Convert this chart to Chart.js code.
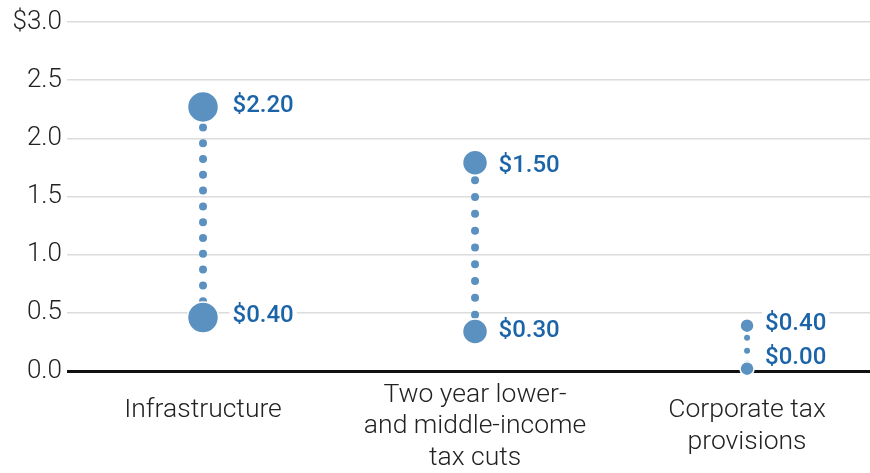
<!DOCTYPE html>
<html>
<head>
<meta charset="utf-8">
<script src="https://cdn.jsdelivr.net/npm/chart.js@4/dist/chart.umd.min.js"></script>
<style>
html,body{margin:0;padding:0;background:#fff;overflow:hidden;}
#wrap{width:870px;height:473px;position:relative;}
canvas{display:block;}
</style>
</head>
<body>
<div id="wrap"><canvas id="mainCanvas"></canvas></div>
<script>
// chart values
var categories = [['Infrastructure', ''], ['Two year lower-', 'and middle-income', 'tax cuts'], ['Corporate tax', 'provisions']];
var highValues = [2.27, 1.79, 0.39];
var lowValues = [0.46, 0.34, 0.02];
var highLabels = ['$2.20', '$1.50', '$0.40'];
var lowLabels = ['$0.40', '$0.30', '$0.00'];
var yTicks = [0, 0.5, 1.0, 1.5, 2.0, 2.5, 3.0];

// looks
var dotColor = '#5b91c1';
var labelColor = '#1c64a8';
var bigRadius = [15.5, 12.5, 7];
var smallDot = [8, 8, 6];
var dotGap = [15.8, 16.8, 13];
var lowNudge = [-2, -1, -12];
var highNudge = [-2, 2, -3];

var datasets = categories.map(function(c, i){
    return {
        data: [{x: i, y: highValues[i]}, {x: i, y: lowValues[i]}],
        clip: false,
        borderColor: dotColor,
        backgroundColor: dotColor,
        borderWidth: smallDot[i],
        borderDash: [0, dotGap[i]],
        borderDashOffset: dotGap[i] - ((bigRadius[i] + 5) % dotGap[i]),
        borderCapStyle: 'round',
        pointRadius: bigRadius[i],
        pointHoverRadius: bigRadius[i],
        pointBackgroundColor: dotColor,
        pointBorderColor: '#fff',
        pointBorderWidth: 1.5
    };
});

var valueLabels = {
    id: 'valueLabels',
    afterDatasetsDraw: function(chart){
        var ctx = chart.ctx;
        var xs = chart.scales.x, ys = chart.scales.y;
        ctx.save();
        ctx.font = '500 24px Roboto';
        ctx.textBaseline = 'middle';
        ctx.textAlign = 'left';
        for (var i = 0; i < categories.length; i++){
            var px = xs.getPixelForValue(i) + bigRadius[i] + (i == 0 ? 14 : 11);
            var items = [[highLabels[i], ys.getPixelForValue(highValues[i]) + highNudge[i]],
                         [lowLabels[i], ys.getPixelForValue(lowValues[i]) + lowNudge[i]]];
            items.forEach(function(it){
                var w = ctx.measureText(it[0]).width;
                ctx.fillStyle = '#fff';
                ctx.fillRect(px - 3, it[1] - 13, w + 6, 26);
                ctx.fillStyle = labelColor;
                ctx.fillText(it[0], px, it[1] + 1);
            });
        }
        ctx.restore();
    }
};

var ctx = document.getElementById('mainCanvas').getContext('2d');
var sChart = new Chart(ctx, {
    type: 'line',
    data: { datasets: datasets },
    plugins: [valueLabels],
    options: {
        responsive: true,
        maintainAspectRatio: false,
        animation: false,
        layout: { autoPadding: false, padding: { top: 22, right: 0, left: 0, bottom: 0 } },
        plugins: { legend: { display: false }, tooltip: { enabled: false } },
        scales: {
            x: {
                type: 'linear',
                min: -0.5,
                max: 2.452,
                afterBuildTicks: function(scale){
                    scale.ticks = [0, 1, 2].map(function(v){ return {value: v}; });
                },
                afterFit: function(scale){ scale.height = 102; },
                grid: { display: false },
                border: { display: false },
                ticks: {
                    autoSkip: false,
                    maxRotation: 0,
                    padding: 16,
                    crossAlign: 'center',
                    color: '#222',
                    font: { family: 'Roboto', size: 26.5, weight: 300, lineHeight: 1.19 },
                    callback: function(v){ return categories[v]; }
                }
            },
            y: {
                min: 0,
                max: 3,
                afterBuildTicks: function(scale){
                    scale.ticks = yTicks.map(function(v){ return {value: v}; });
                },
                afterFit: function(scale){ scale.width = 67; },
                border: { display: false },
                grid: {
                    drawTicks: false,
                    color: function(c){ return c.tick && c.tick.value === 0 ? '#111' : '#dcdcdc'; },
                    lineWidth: function(c){ return c.tick && c.tick.value === 0 ? 3 : 1.5; }
                },
                ticks: {
                    padding: 5,
                    color: '#222',
                    font: { family: 'Roboto', size: 26, weight: 300 },
                    callback: function(v){ return v === 3 ? '$3.0' : v.toFixed(1); }
                }
            }
        }
    }
});
</script>
</body>
</html>
